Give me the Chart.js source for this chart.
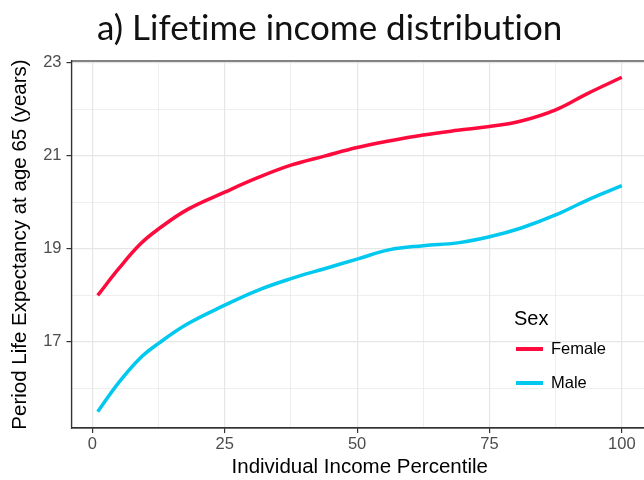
<!DOCTYPE html>
<html>
<head>
<meta charset="utf-8">
<script src="https://cdn.jsdelivr.net/npm/chart.js@4"></script>
<style>
  html, body { margin:0; padding:0; background:#fff; overflow:hidden; width:644px; height:480px; }
  #wrap { position:absolute; left:0; top:0; width:648px; height:480px; }
  #title { position:absolute; left:97px; top:5px; font-family: Lato, "DejaVu Sans", sans-serif; font-size:35px; color:#111; white-space:nowrap; font-variant-ligatures:none; font-feature-settings:"liga" 0; }
</style>
</head>
<body>
<div id="wrap"><canvas id="c" width="648" height="480"></canvas></div>
<div id="title">a) Lifetime income distribution</div>
<script>
const percentiles = [1, 5, 9, 12.5, 18, 25, 31, 37.5, 44, 50, 56, 62.5, 69, 75, 81, 87.5, 93.5, 100];
const female = [18.00, 18.58, 19.10, 19.43, 19.85, 20.22, 20.52, 20.80, 21.00, 21.18, 21.32, 21.45, 21.55, 21.63, 21.75, 21.99, 22.34, 22.69];
const male   = [15.50, 16.13, 16.65, 16.97, 17.39, 17.79, 18.10, 18.36, 18.58, 18.78, 18.98, 19.07, 19.13, 19.26, 19.45, 19.73, 20.05, 20.36];
const xTicks = [0, 12.5, 25, 37.5, 50, 62.5, 75, 87.5, 100];
const xMajor = [0, 25, 50, 75, 100];
const yTicks = [16, 17, 18, 19, 20, 21, 22, 23];
const yMajor = [17, 19, 21, 23];
const seriesLabels = ['Female', 'Male'];
const legendTitle = 'Sex';

const femaleColor = '#FF0A3C';
const maleColor = '#00C8EE';

const toXY = (ys) => percentiles.map((p, i) => ({x: p, y: ys[i]}));

const panelBorder = {
  id: 'panelBorder',
  afterDraw(chart) {
    const {ctx, chartArea: a} = chart;
    ctx.save();
    ctx.strokeStyle = '#333333';
    ctx.lineWidth = 1.2;
    ctx.strokeRect(a.left, a.top, a.right - a.left, a.bottom - a.top);
    ctx.restore();
  }
};

const innerLegend = {
  id: 'innerLegend',
  afterDatasetsDraw(chart) {
    const {ctx} = chart;
    ctx.save();
    ctx.fillStyle = '#000';
    ctx.textBaseline = 'middle';
    ctx.textAlign = 'left';
    ctx.font = '20px "Liberation Sans", Arial, sans-serif';
    ctx.fillText(legendTitle, 514, 319);
    ctx.font = '16.5px "Liberation Sans", Arial, sans-serif';
    chart.data.datasets.forEach((ds, i) => {
      const y = 349 + i * 34;
      ctx.strokeStyle = ds.borderColor;
      ctx.lineWidth = 4;
      ctx.beginPath();
      ctx.moveTo(516, y);
      ctx.lineTo(543, y);
      ctx.stroke();
      ctx.fillStyle = '#000';
      ctx.fillText(ds.label, 551, y);
    });
    ctx.restore();
  }
};

new Chart(document.getElementById('c'), {
  type: 'line',
  data: {
    datasets: [
      { label: seriesLabels[0], data: toXY(female), borderColor: femaleColor, borderWidth: 3.5, pointRadius: 0, tension: 0.4, fill: false },
      { label: seriesLabels[1], data: toXY(male), borderColor: maleColor, borderWidth: 3.5, pointRadius: 0, tension: 0.4, fill: false }
    ]
  },
  options: {
    responsive: false,
    animation: false,
    layout: { padding: { top: 61, right: 0, left: 0, bottom: 0 } },
    plugins: { legend: { display: false }, tooltip: { enabled: false }, title: { display: false } },
    scales: {
      x: {
        type: 'linear',
        min: -3.95, max: 104.95,
        afterBuildTicks: (s) => { s.ticks = xTicks.map(v => ({value: v})); },
        afterFit: (s) => { s.height = 52; },
        grid: {
          color: '#E6E6E6',
          lineWidth: (c) => xMajor.includes(c.tick.value) ? 1.2 : 0.7,
          tickColor: (c) => xMajor.includes(c.tick.value) ? '#333333' : 'rgba(0,0,0,0)',
          tickLength: 5,
          drawTicks: true
        },
        border: { color: '#333333', width: 1.2 },
        ticks: {
          autoSkip: false, maxRotation: 0, padding: 2,
          color: '#4D4D4D',
          font: { family: '"Liberation Sans", Arial, sans-serif', size: 16.5 },
          callback: (v) => xMajor.includes(v) ? String(v) : ''
        },
        title: {
          display: true, text: 'Individual Income Percentile', color: '#000',
          font: { family: '"Liberation Sans", Arial, sans-serif', size: 20.5 },
          padding: { top: 2, bottom: 0 }
        }
      },
      y: {
        type: 'linear',
        min: 15.15, max: 23.04,
        afterBuildTicks: (s) => { s.ticks = yTicks.map(v => ({value: v})); },
        afterFit: (s) => { s.width = 71.5; },
        grid: {
          color: '#E6E6E6',
          lineWidth: (c) => yMajor.includes(c.tick.value) ? 1.2 : 0.7,
          tickColor: (c) => yMajor.includes(c.tick.value) ? '#333333' : 'rgba(0,0,0,0)',
          tickLength: 5,
          drawTicks: true
        },
        border: { color: '#333333', width: 1.2 },
        ticks: {
          autoSkip: false, padding: 5,
          color: '#4D4D4D',
          font: { family: '"Liberation Sans", Arial, sans-serif', size: 16.5 },
          callback: (v) => yMajor.includes(v) ? String(v) : ''
        },
        title: {
          display: true, text: 'Period Life Expectancy at age 65 (years)', color: '#000',
          font: { family: '"Liberation Sans", Arial, sans-serif', size: 20.5 },
          padding: { top: 8, bottom: 0 }
        }
      }
    }
  },
  plugins: [panelBorder, innerLegend]
});
</script>
</body>
</html>
